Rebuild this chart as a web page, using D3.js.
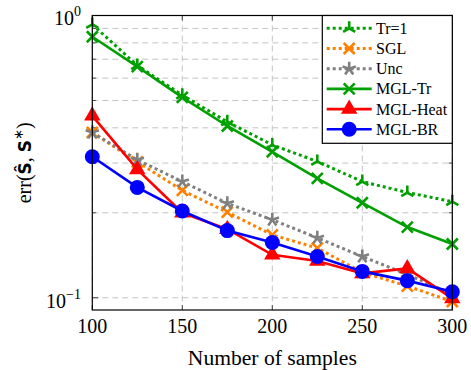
<!DOCTYPE html>
<html><head><meta charset="utf-8">
<script src="https://cdn.jsdelivr.net/npm/d3@7"></script>
<style>body{margin:0;background:#fff}svg{display:block}</style>
</head><body><svg id="c" width="471" height="370"></svg>
<script>
const samples = [100,125,150,175,200,225,250,275,300];
const seriesNames = ["Tr=1","SGL","Unc","MGL-Tr","MGL-Heat","MGL-BR"];
const tr1     = [0.93,0.665,0.522,0.42,0.348,0.304,0.258,0.236,0.219];
const sgl     = [0.385,0.303,0.24,0.201,0.167,0.15,0.123,0.11,0.097];
const unc     = [0.385,0.308,0.258,0.216,0.189,0.163,0.14,0.121,0.103];
const mglTr   = [0.841,0.659,0.513,0.406,0.329,0.265,0.217,0.178,0.155];
const mglHeat = [0.441,0.285,0.2,0.175,0.142,0.135,0.122,0.127,0.0995];
const mglBR   = [0.316,0.246,0.203,0.173,0.157,0.14,0.124,0.115,0.105];
const xTicks = [100,150,200,250,300];
const yMajor = [0.1,1];
const yMinor = [0.2,0.3,0.4,0.5,0.6,0.7,0.8,0.9];

const styles = [
  {color:"#00a000", dash:"3,3", marker:"tri"},
  {color:"#ff8000", dash:"3,3", marker:"cross"},
  {color:"#808080", dash:"3,3", marker:"star"},
  {color:"#00a000", dash:null, marker:"cross"},
  {color:"#ff0000", dash:null, marker:"triangle"},
  {color:"#0000ff", dash:null, marker:"circle"}
];
const data = [tr1,sgl,unc,mglTr,mglHeat,mglBR];

const svg = d3.select("#c");
const L=92.3,R=452.3,T=15.5,B=310;
const x = d3.scaleLinear().domain([100,300]).range([L,R]);
const y = d3.scaleLog().domain([0.0905,1]).range([B,T]);
const font = "'Liberation Serif', 'Times New Roman', serif";

// grid
const g = svg.append("g");
xTicks.forEach(t=>{
  g.append("line").attr("x1",x(t)).attr("x2",x(t)).attr("y1",T).attr("y2",B)
   .attr("stroke","#c4c4c4").attr("stroke-width",1).attr("stroke-dasharray","6,4");
});
yMajor.concat(yMinor).forEach(t=>{
  g.append("line").attr("x1",L).attr("x2",R).attr("y1",y(t)).attr("y2",y(t))
   .attr("stroke","#c4c4c4").attr("stroke-width",1).attr("stroke-dasharray","6,4");
});
// ticks
xTicks.forEach(t=>{
  g.append("line").attr("x1",x(t)).attr("x2",x(t)).attr("y1",B).attr("y2",B-5).attr("stroke","#444");
  g.append("line").attr("x1",x(t)).attr("x2",x(t)).attr("y1",T).attr("y2",T+5).attr("stroke","#444");
});
yMajor.forEach(t=>{
  g.append("line").attr("x1",L).attr("x2",L+6).attr("y1",y(t)).attr("y2",y(t)).attr("stroke","#444");
  g.append("line").attr("x1",R).attr("x2",R-6).attr("y1",y(t)).attr("y2",y(t)).attr("stroke","#444");
});
yMinor.forEach(t=>{
  g.append("line").attr("x1",L).attr("x2",L+3.5).attr("y1",y(t)).attr("y2",y(t)).attr("stroke","#444");
  g.append("line").attr("x1",R).attr("x2",R-3.5).attr("y1",y(t)).attr("y2",y(t)).attr("stroke","#444");
});

function marker(sel, type, color, cx, cy){
  const m = sel.append("g").attr("transform",`translate(${cx},${cy})`);
  if(type==="circle"){
    m.append("circle").attr("r",7.5).attr("fill",color);
  } else if(type==="triangle"){
    const r=9.5;
    const pts=[[0,-r],[r*0.866,r*0.5],[-r*0.866,r*0.5]];
    m.append("path").attr("d","M"+pts.map(p=>p.join(",")).join("L")+"Z").attr("fill",color);
  } else if(type==="cross"){
    const s=5.5;
    m.append("path").attr("d",`M${-s},${-s}L${s},${s}M${-s},${s}L${s},${-s}`)
     .attr("stroke",color).attr("stroke-width",2.6).attr("fill","none");
  } else if(type==="star"){
    const s=7; let d="";
    for(let i=0;i<5;i++){const a=-Math.PI/2+i*2*Math.PI/5; d+=`M0,0L${s*Math.cos(a)},${s*Math.sin(a)}`;}
    m.append("path").attr("d",d).attr("stroke",color).attr("stroke-width",2.6).attr("fill","none");
  } else if(type==="tri"){
    const s=7; let d="";
    [-90,30,150].forEach(deg=>{const a=deg*Math.PI/180; d+=`M0,0L${s*Math.cos(a)},${s*Math.sin(a)}`;});
    m.append("path").attr("d",d).attr("stroke",color).attr("stroke-width",2.6).attr("fill","none");
  }
}

const line = d3.line().x((d,i)=>x(samples[i])).y(d=>y(d));
const plot = svg.append("g");
data.forEach((vals,k)=>{
  const st=styles[k];
  const sg=plot.append("g");
  sg.append("path").attr("d",line(vals)).attr("fill","none").attr("stroke",st.color)
    .attr("stroke-width",st.dash?3:2.6).attr("stroke-dasharray",st.dash);
  vals.forEach((v,i)=>marker(sg,st.marker,st.color,x(samples[i]),y(v)));
});

// frame
svg.append("rect").attr("x",L).attr("y",T).attr("width",R-L).attr("height",B-T)
  .attr("fill","none").attr("stroke","#000").attr("stroke-width",1.2);

// x tick labels
xTicks.forEach(t=>{
  svg.append("text").attr("x",x(t)).attr("y",333).attr("text-anchor","middle")
   .attr("font-family",font).attr("font-size",20).text(t);
});
// y tick labels
[[1,"0"],[0.1,"−1"]].forEach(([v,e])=>{
  const t=svg.append("text").attr("x",81).attr("y",y(v)+(v===1?9.5:10)).attr("text-anchor","end")
   .attr("font-family",font).attr("font-size",20);
  t.append("tspan").text("10");
  t.append("tspan").attr("dy",-9).attr("font-size",14).text(e);
});
// x label
svg.append("text").attr("x",(L+R)/2).attr("y",364.5).attr("text-anchor","middle")
  .attr("font-family",font).attr("font-size",20).attr("textLength",169).attr("lengthAdjust","spacingAndGlyphs")
  .text("Number of samples");
// y label
const yl = svg.append("text").attr("transform",`translate(31,${(T+B)/2}) rotate(-90)`)
  .attr("text-anchor","middle").attr("font-family",font).attr("font-size",20);
yl.append("tspan").text("err(");
yl.append("tspan").attr("font-family","'DejaVu Sans', sans-serif").attr("font-weight","bold").attr("font-size",17).text("Ŝ");
yl.append("tspan").text(", ");
yl.append("tspan").attr("font-family","'DejaVu Sans', sans-serif").attr("font-weight","bold").attr("font-size",17).text("S");
yl.append("tspan").attr("dy",-8).attr("font-size",13).text("∗");
yl.append("tspan").attr("dy",8).text(")");

// legend
const lg = svg.append("g");
const lx0=322.3, ly0=T, lw=R-lx0, lh=143.3-T;
lg.append("rect").attr("x",lx0).attr("y",ly0).attr("width",lw).attr("height",lh)
  .attr("fill","#fff").attr("stroke","#000").attr("stroke-width",1.2);
seriesNames.forEach((name,k)=>{
  const st=styles[k];
  const cy=28.3+k*20.2;
  lg.append("line").attr("x1",326.7).attr("x2",371.7).attr("y1",cy).attr("y2",cy)
    .attr("stroke",st.color).attr("stroke-width",st.dash?3:2.6).attr("stroke-dasharray",st.dash);
  marker(lg,st.marker,st.color,349.2,cy);
  lg.append("text").attr("x",376).attr("y",cy+5.5).attr("font-family",font).attr("font-size",16).text(name);
});
</script></body></html>
